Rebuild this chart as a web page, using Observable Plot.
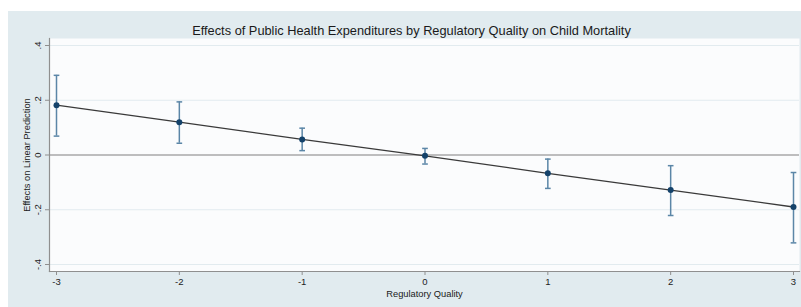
<!DOCTYPE html>
<html>
<head>
<meta charset="utf-8">
<script src="https://cdn.jsdelivr.net/npm/d3@7"></script>
<script src="https://cdn.jsdelivr.net/npm/@observablehq/plot@0.6"></script>
<style>
  html, body { margin: 0; padding: 0; background: #ffffff; }
  #wrap { position: relative; width: 801px; height: 307px; overflow: hidden; }
  #bg { position: absolute; left: 8px; top: 11px; right: 0; bottom: 0; background: #e1ebef; }
  #chart { position: absolute; left: 0; top: 0; }
  svg { font-family: "Liberation Sans", Arial, Helvetica, sans-serif; }
</style>
</head>
<body>
<div id="wrap"><div id="bg"></div><div id="chart"></div></div>
<script>
// Data
const regQuality = [-3, -2, -1, 0, 1, 2, 3];
const effect     = [0.182, 0.120, 0.057, -0.003, -0.067, -0.128, -0.190];
const ciLower    = [0.069, 0.043, 0.016, -0.033, -0.122, -0.221, -0.321];
const ciUpper    = [0.291, 0.194, 0.098, 0.024, -0.015, -0.039, -0.064];
const xTicks      = [-3, -2, -1, 0, 1, 2, 3];
const xTickLabels = ["-3", "-2", "-1", "0", "1", "2", "3"];
const yTicks      = [-0.4, -0.2, 0, 0.2, 0.4];
const yTickLabels = ["-.4", "-.2", "0", ".2", ".4"];
const gridValues  = [-0.4, -0.2, 0.2, 0.4];
const titleText = "Effects of Public Health Expenditures by Regulatory Quality on Child Mortality";
const xTitle = "Regulatory Quality";
const yTitle = "Effects on Linear Prediction";

const data = regQuality.map((x, i) => ({x, y: effect[i], lo: ciLower[i], hi: ciUpper[i]}));

const capSymbol = {
  draw(context, size) {
    const w = Math.sqrt(size) / 2;
    context.moveTo(-w, 0);
    context.lineTo(w, 0);
  }
};

const chart = Plot.plot({
  width: 801,
  height: 307,
  marginLeft: 49,
  marginRight: 2,
  marginTop: 38,
  marginBottom: 36,
  style: {background: "transparent", fontSize: "9.5px", color: "#222"},
  x: {domain: [-3, 3], insetLeft: 7, insetRight: 6},
  y: {domain: [-0.4, 0.4], insetTop: 7, insetBottom: 7},
  marks: [
    Plot.frame({fill: "#fbfcfd", stroke: "none"}),
    Plot.ruleY(gridValues, {stroke: "#e2ebef", strokeWidth: 1.2}),
    Plot.ruleY([0], {stroke: "#a9a9a9", strokeWidth: 1.6}),
    Plot.frame({anchor: "left", stroke: "#8f8f8f", strokeWidth: 1.2}),
    Plot.frame({anchor: "bottom", stroke: "#8f8f8f", strokeWidth: 1.2}),
    Plot.axisX({ticks: xTicks, tickFormat: (d) => xTickLabels[xTicks.indexOf(d)], tickSize: 4, tickPadding: 3, stroke: "#8f8f8f", fill: "#222", label: null}),
    Plot.axisY({ticks: yTicks, tickFormat: (d) => yTickLabels[yTicks.findIndex(t => Math.abs(t - d) < 1e-9)], tickSize: 4, tickPadding: 5, tickRotate: -90, stroke: "#8f8f8f", fill: "#222", label: null}),
    Plot.ruleX(data, {x: "x", y1: "lo", y2: "hi", stroke: "#5b86a7", strokeWidth: 1.5}),
    Plot.dot(data, {x: "x", y: "lo", symbol: capSymbol, r: 3.2, stroke: "#5b86a7", strokeWidth: 1.5, fill: "none"}),
    Plot.dot(data, {x: "x", y: "hi", symbol: capSymbol, r: 3.2, stroke: "#5b86a7", strokeWidth: 1.5, fill: "none"}),
    Plot.line(data, {x: "x", y: "y", stroke: "#3a3a3a", strokeWidth: 1.3}),
    Plot.dot(data, {x: "x", y: "y", r: 3, fill: "#14426a", stroke: "none"}),
    Plot.text([titleText], {frameAnchor: "top", textAnchor: "middle", lineAnchor: "middle", dy: -8, dx: -13, fontSize: 12.8, fill: "#1a1a1a"}),
    Plot.text([xTitle], {frameAnchor: "bottom", textAnchor: "middle", lineAnchor: "middle", dy: 23, fontSize: 9.3, fill: "#1a1a1a"}),
    Plot.text([yTitle], {frameAnchor: "left", textAnchor: "middle", lineAnchor: "middle", dx: -22, rotate: -90, fontSize: 9.3, fill: "#1a1a1a"})
  ]
});
document.getElementById("chart").appendChild(chart);
</script>
</body>
</html>
